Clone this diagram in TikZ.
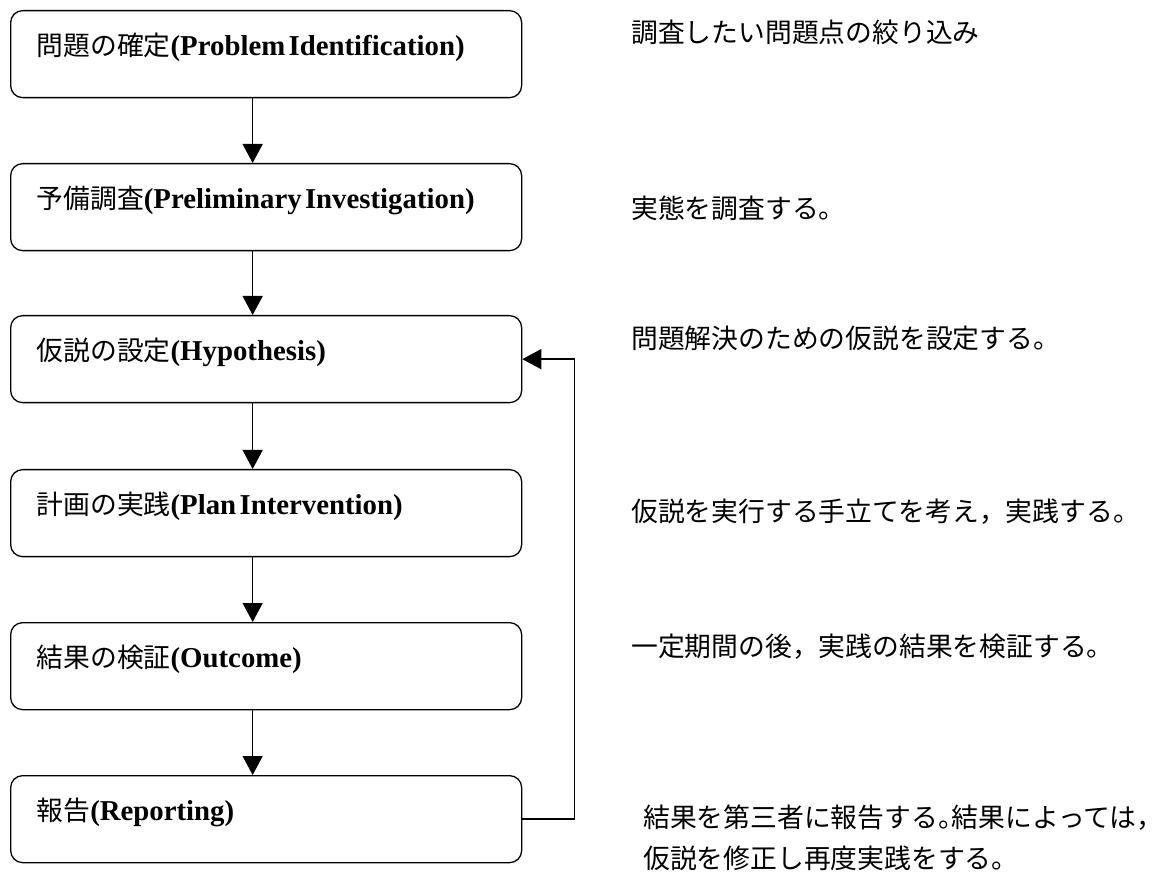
\documentclass[tikz,border=0pt]{standalone}
\usepackage{fontspec}
\setmainfont{Liberation Serif}
\newfontfamily\jpfont{Noto Sans CJK JP}
\usepackage{tikz}
\usetikzlibrary{arrows.meta,positioning}
\newcommand{\jp}[1]{{\jpfont\fontsize{26.8pt}{32pt}\selectfont #1}}
\newcommand{\en}[1]{{\bfseries\fontsize{28.8pt}{34pt}\selectfont #1}}
\tikzset{
  box/.style={rectangle, rounded corners=12pt, draw=black, line width=1.3pt, anchor=north west,
              minimum width=511pt, minimum height=87pt, text width=459pt, align=left,
              inner xsep=26pt, inner ysep=0pt, text height=45pt, text depth=42pt},
  fl/.style={-{Triangle[length=19pt,width=20pt]}, line width=1.4pt, draw=black},
  note/.style={anchor=west, inner sep=0pt, align=left, font=\jpfont\fontsize{26.8pt}{41pt}\selectfont},
}

\begin{document}
\begin{tikzpicture}[x=1pt,y=-1pt]
  \useasboundingbox (0,0) rectangle (1163,874);
  \node[box] (p1) at (10,10)  {\jp{問題の確定}\en{(Problem\ Identification)}};
  \node[box] (p2) at (10,163) {\jp{予備調査}\en{(Preliminary\ Investigation)}};
  \node[box] (p3) at (10,315) {\jp{仮説の設定}\en{(Hypothesis)}};
  \node[box] (p4) at (10,469) {\jp{計画の実践}\en{(Plan\ Intervention)}};
  \node[box] (p5) at (10,622) {\jp{結果の検証}\en{(Outcome)}};
  \node[box] (p6) at (10,775) {\jp{報告}\en{(Reporting)}};
  \draw[fl] ([xshift=-13.5pt]p1.south)--([xshift=-13.5pt]p2.north);\draw[fl] ([xshift=-13.5pt]p2.south)--([xshift=-13.5pt]p3.north);
  \draw[fl] ([xshift=-13.5pt]p3.south)--([xshift=-13.5pt]p4.north);\draw[fl] ([xshift=-13.5pt]p4.south)--([xshift=-13.5pt]p5.north);
  \draw[fl] ([xshift=-13.5pt]p5.south)--([xshift=-13.5pt]p6.north);
  \draw[fl] (p6.east) -- ++(52,0) |- (p3.east);
  % notes on the right
  \node[note] (n1) at (631,32)  {調査したい問題点の絞り込み};
  \node[note] (n2) at (631,208) {実態を調査する。};
  \node[note] (n3) at (631,338) {問題解決のための仮説を設定する。};
  \node[note] (n4) at (631,512) {仮説を実行する手立てを考え，実践する。};
  \node[note] (n5) at (631,647) {一定期間の後，実践の結果を検証する。};
  \node[note] (n6) at (643,837.5) {結果を第三者に報告する。\kern-13pt 結果によっては，\kern-12pt\\仮説を修正し再度実践をする。};
\end{tikzpicture}
\end{document}
